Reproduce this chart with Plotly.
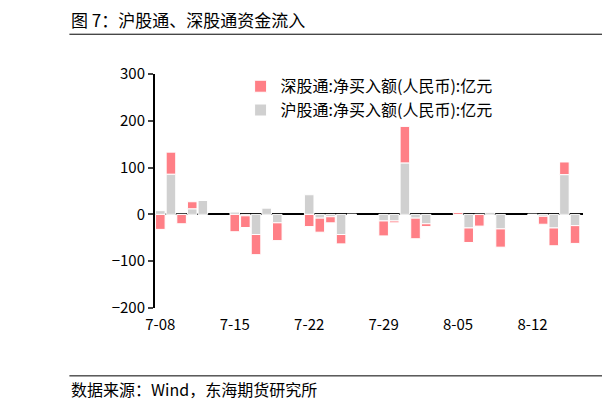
import plotly.graph_objects as go

dates = ['2024-07-08', '2024-07-09', '2024-07-10', '2024-07-11', '2024-07-12',
         '2024-07-15', '2024-07-16', '2024-07-17', '2024-07-18', '2024-07-19',
         '2024-07-22', '2024-07-23', '2024-07-24', '2024-07-25', '2024-07-26',
         '2024-07-29', '2024-07-30', '2024-07-31', '2024-08-01', '2024-08-02',
         '2024-08-05', '2024-08-06', '2024-08-07', '2024-08-08', '2024-08-09',
         '2024-08-12', '2024-08-13', '2024-08-14', '2024-08-15', '2024-08-16']
hgt = [8, 86, 0, 12, 30,
       5, -3, -43, 14, -18,
       42, -8, -5, -43, 0,
       -14, -14, 110, -8, -20,
       0, -29, 0, 5, -31,
       0, -4, -29, 85, -24]
sgt = [-32, 47, -20, 15, 0,
       -37, -25, -43, 0, -38,
       -26, -30, -13, -20, 0,
       -32, -4, 78, -44, -6,
       4, -31, -25, 0, -39,
       0, -17, -38, 27, -38]
tick_vals = ['2024-07-08', '2024-07-15', '2024-07-22', '2024-07-29', '2024-08-05', '2024-08-12']
tick_text = ['7-08', '7-15', '7-22', '7-29', '8-05', '8-12']

fig = go.Figure()
fig.add_trace(go.Bar(x=dates, y=hgt, name='沪股通:净买入额(人民币):亿元',
                     marker=dict(color='#d0d0d0', line=dict(color='white', width=1))))
fig.add_trace(go.Bar(x=dates, y=sgt, name='深股通:净买入额(人民币):亿元',
                     marker=dict(color='#ff7f86', line=dict(color='white', width=1))))

fig.update_layout(
    width=610, height=409, barmode='relative', bargap=0.1,
    plot_bgcolor='white', paper_bgcolor='white',
    font=dict(family='Noto Sans CJK SC', size=15, color='black'),
    margin=dict(l=147, r=35, t=66, b=109),
    legend=dict(x=0.2, y=1.02, xanchor='left', yanchor='top', traceorder='reversed',
                font=dict(size=16), bgcolor='rgba(0,0,0,0)', itemwidth=30),
    showlegend=True,
)
fig.update_xaxes(type='date', range=['2024-07-07 12:00', '2024-08-16 18:00'],
                 tickvals=tick_vals, ticktext=tick_text, showgrid=False,
                 showline=False, ticks='', tickfont=dict(size=15), ticklabelstandoff=6)
fig.update_yaxes(range=[-200, 300], dtick=100, showgrid=False, showline=True,
                 linecolor='black', linewidth=2, ticks='outside', ticklen=5,
                 tickwidth=2, zeroline=True, zerolinecolor='black', zerolinewidth=2,
                 tickfont=dict(size=15))

fig.add_annotation(text='图 7：沪股通、深股通资金流入', xref='paper', yref='paper',
                   x=-0.2, y=1.235, xanchor='left', yanchor='middle', showarrow=False,
                   font=dict(size=17))
fig.add_shape(type='line', xref='paper', yref='paper', x0=-0.2, x1=1.1, y0=1.17, y1=1.17,
              line=dict(color='black', width=1))
fig.add_shape(type='line', xref='paper', yref='paper', x0=-0.2, x1=1.1, y0=-0.29, y1=-0.29,
              line=dict(color='black', width=1))
fig.add_annotation(text='数据来源：Wind，东海期货研究所', xref='paper', yref='paper',
                   x=-0.2, y=-0.346, xanchor='left', yanchor='middle', showarrow=False,
                   font=dict(size=16))

fig.write_html('out.html')
